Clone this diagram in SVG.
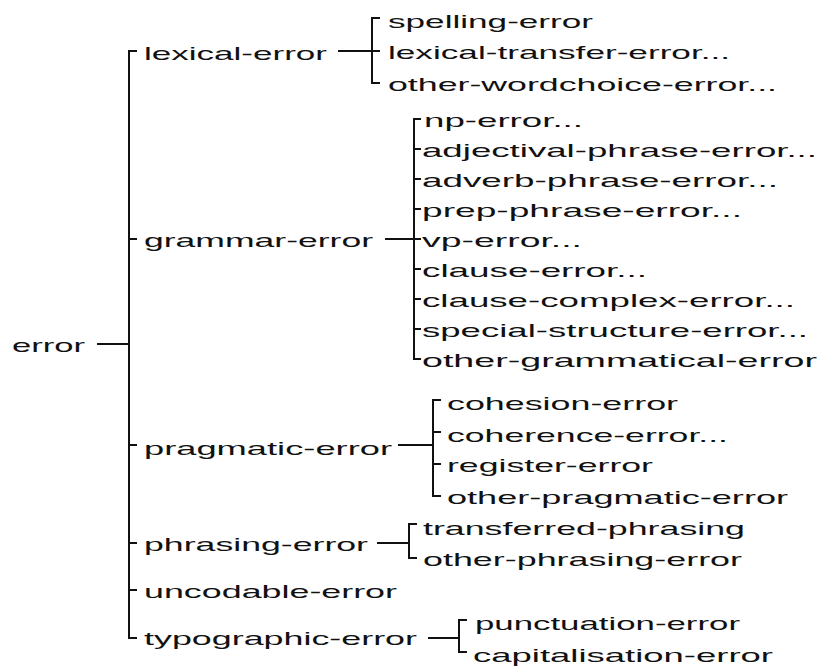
<svg xmlns="http://www.w3.org/2000/svg" width="822" height="666" viewBox="0 0 822 666">
<style>
text{font-family:"Liberation Sans",Arial,sans-serif;font-size:19px;fill:#111}
.c path{fill:none;stroke:#111;stroke-width:2}
</style>
<rect width="822" height="666" fill="#fff"/>
<g class="c" id="connectors">
<path d="M97 344H129M137 51H129V638H137M129 239H137M129 445H137M129 543H137M129 590H137"/>
<path d="M338 51H380M380 18H372V83H380"/>
<path d="M385 239H421M421 119H414V359H421M414 149H421M414 179H421M414 209H421M414 269H421M414 299H421M414 329H421"/>
<path d="M398 445H433M441 400H433V496H441M433 432H441M433 464H441"/>
<path d="M377 543H409M417 524H409V558H417"/>
<path d="M428 638H459M467 620H459V652H467"/>
</g>
<g id="n-error"><text x="12" y="352" textLength="73" lengthAdjust="spacingAndGlyphs">error</text></g>
<g id="n-lexical-error"><text x="144" y="60" textLength="183" lengthAdjust="spacingAndGlyphs">lexical-error</text></g>
<g id="n-spelling-error"><text x="388" y="28" textLength="205" lengthAdjust="spacingAndGlyphs">spelling-error</text></g>
<g id="n-lexical-transfer-error"><text x="388" y="59" textLength="342" lengthAdjust="spacingAndGlyphs">lexical-transfer-error...</text></g>
<g id="n-other-wordchoice-error"><text x="388" y="91" textLength="389" lengthAdjust="spacingAndGlyphs">other-wordchoice-error...</text></g>
<g id="n-grammar-error"><text x="144" y="247" textLength="229" lengthAdjust="spacingAndGlyphs">grammar-error</text></g>
<g id="n-np-error"><text x="424" y="127" textLength="159" lengthAdjust="spacingAndGlyphs">np-error...</text></g>
<g id="n-adjectival-phrase-error"><text x="422" y="157" textLength="395" lengthAdjust="spacingAndGlyphs">adjectival-phrase-error...</text></g>
<g id="n-adverb-phrase-error"><text x="422" y="187" textLength="356" lengthAdjust="spacingAndGlyphs">adverb-phrase-error...</text></g>
<g id="n-prep-phrase-error"><text x="422" y="217" textLength="320" lengthAdjust="spacingAndGlyphs">prep-phrase-error...</text></g>
<g id="n-vp-error"><text x="422" y="247" textLength="160" lengthAdjust="spacingAndGlyphs">vp-error...</text></g>
<g id="n-clause-error"><text x="422" y="277" textLength="225" lengthAdjust="spacingAndGlyphs">clause-error...</text></g>
<g id="n-clause-complex-error"><text x="422" y="307" textLength="373" lengthAdjust="spacingAndGlyphs">clause-complex-error...</text></g>
<g id="n-special-structure-error"><text x="422" y="337" textLength="386" lengthAdjust="spacingAndGlyphs">special-structure-error...</text></g>
<g id="n-other-grammatical-error"><text x="422" y="367" textLength="395" lengthAdjust="spacingAndGlyphs">other-grammatical-error</text></g>
<g id="n-pragmatic-error"><text x="144" y="455" textLength="248" lengthAdjust="spacingAndGlyphs">pragmatic-error</text></g>
<g id="n-cohesion-error"><text x="447" y="410" textLength="231" lengthAdjust="spacingAndGlyphs">cohesion-error</text></g>
<g id="n-coherence-error"><text x="447" y="442" textLength="281" lengthAdjust="spacingAndGlyphs">coherence-error...</text></g>
<g id="n-register-error"><text x="447" y="472" textLength="206" lengthAdjust="spacingAndGlyphs">register-error</text></g>
<g id="n-other-pragmatic-error"><text x="447" y="504" textLength="341" lengthAdjust="spacingAndGlyphs">other-pragmatic-error</text></g>
<g id="n-phrasing-error"><text x="144" y="551" textLength="224" lengthAdjust="spacingAndGlyphs">phrasing-error</text></g>
<g id="n-transferred-phrasing"><text x="423" y="535" textLength="322" lengthAdjust="spacingAndGlyphs">transferred-phrasing</text></g>
<g id="n-other-phrasing-error"><text x="423" y="566" textLength="319" lengthAdjust="spacingAndGlyphs">other-phrasing-error</text></g>
<g id="n-uncodable-error"><text x="144" y="598" textLength="253" lengthAdjust="spacingAndGlyphs">uncodable-error</text></g>
<g id="n-typographic-error"><text x="144" y="645" textLength="273" lengthAdjust="spacingAndGlyphs">typographic-error</text></g>
<g id="n-punctuation-error"><text x="475" y="630" textLength="265" lengthAdjust="spacingAndGlyphs">punctuation-error</text></g>
<g id="n-capitalisation-error"><text x="473" y="662" textLength="300" lengthAdjust="spacingAndGlyphs">capitalisation-error</text></g>
</svg>
